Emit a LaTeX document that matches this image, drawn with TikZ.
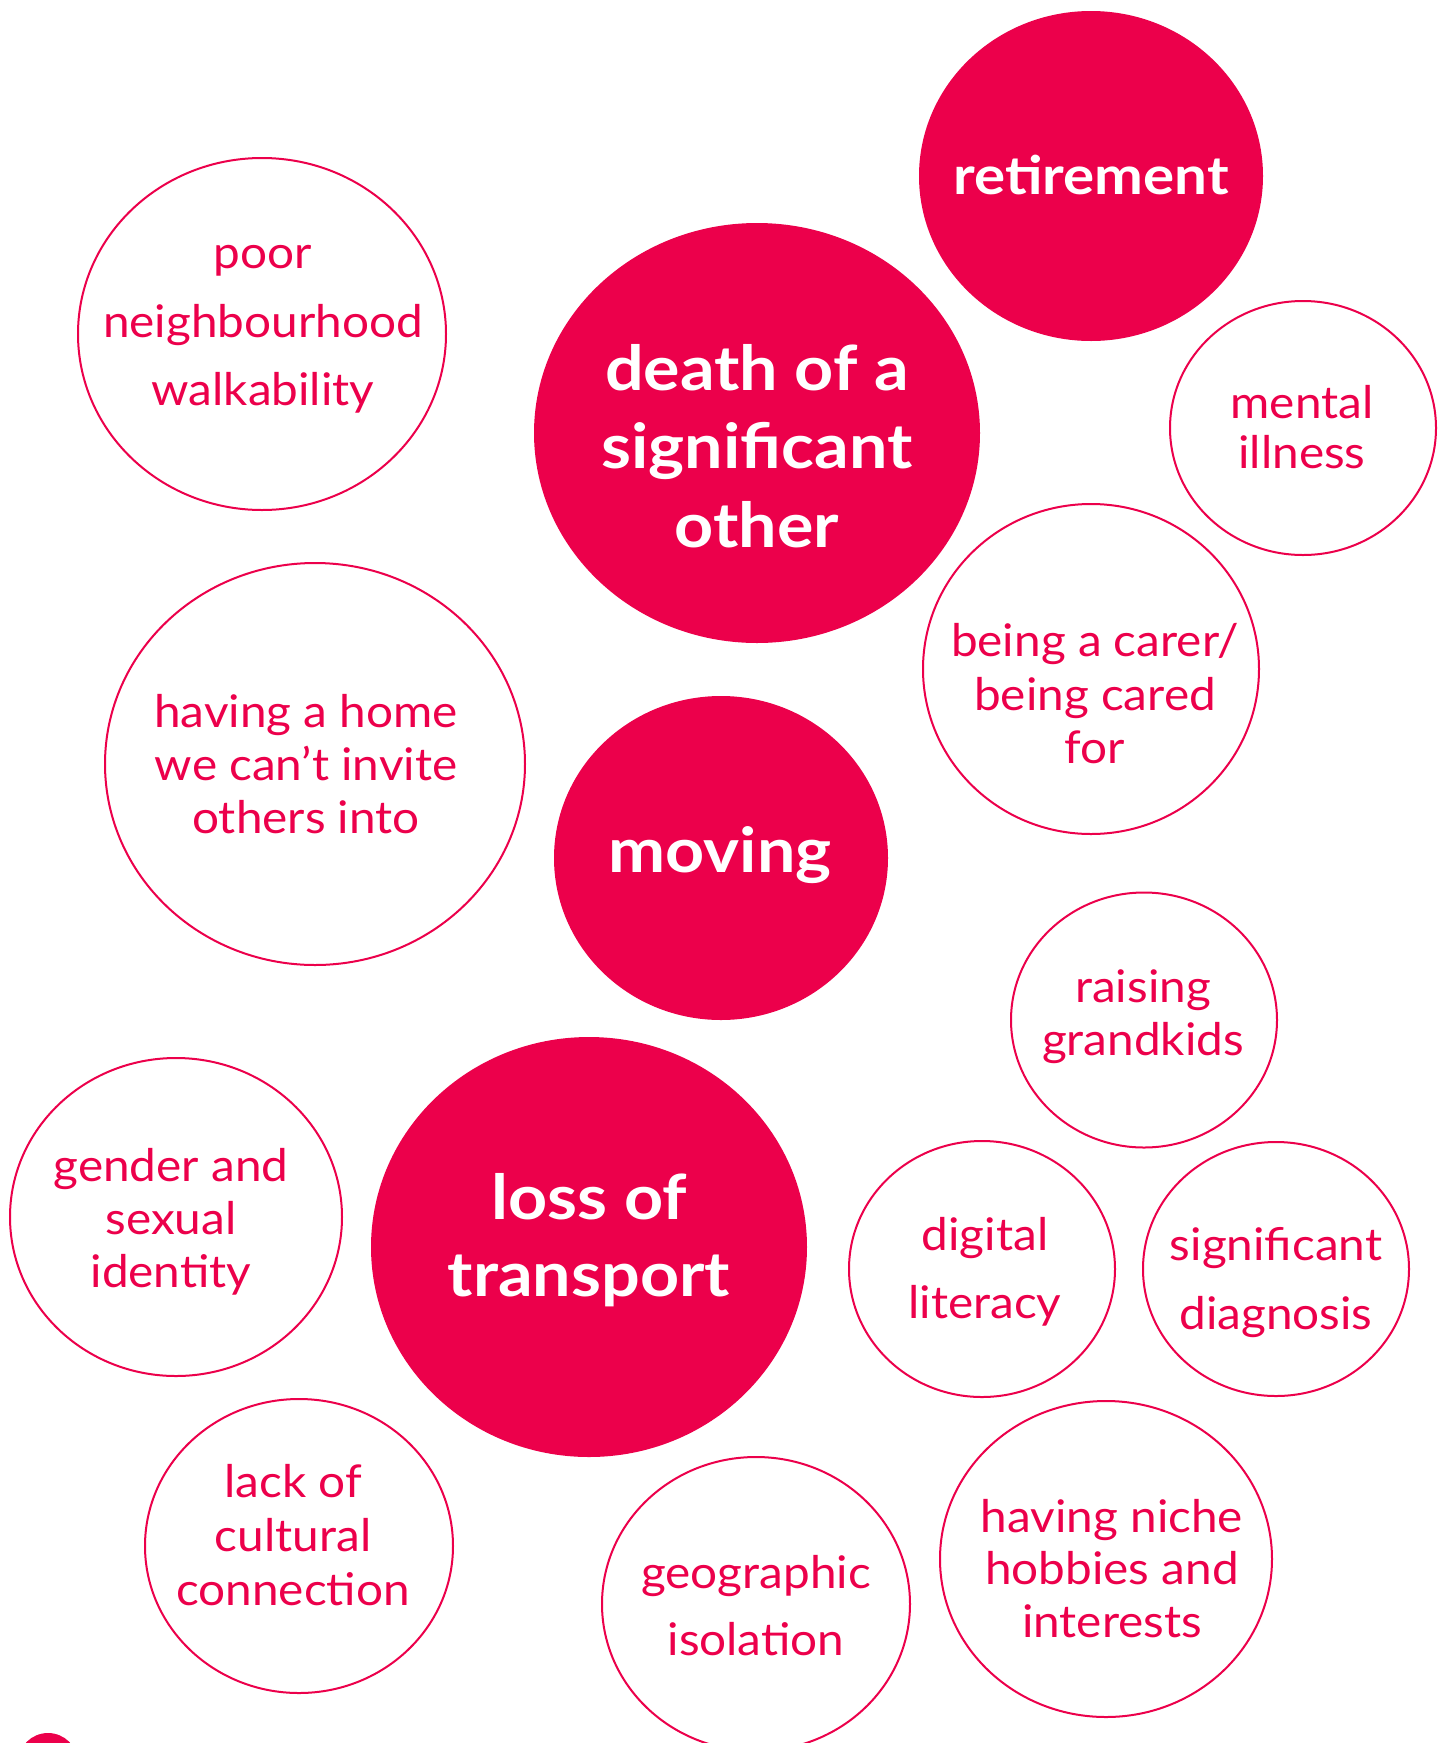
\documentclass[tikz,border=0pt]{standalone}
\usepackage{fontspec}
\setmainfont{Lato}
\newfontfamily\reglato{Lato}[FakeStretch=1.06]
\newfontfamily\boldlato{Lato}[FakeStretch=1.10]
\usetikzlibrary{shapes.geometric}
\definecolor{brand}{RGB}{236,0,75}
\tikzset{
  solidball/.style={ellipse, fill=brand, draw=none, inner sep=0pt, outer sep=0pt},
  ringball/.style={ellipse, draw=brand, line width=2pt, fill=none, inner sep=0pt, outer sep=0pt},
  boldtxt/.style={text=white, font=\boldlato\fontsize{62}{62}\selectfont\bfseries, anchor=base, inner sep=0pt},
  smallbold/.style={boldtxt, font=\boldlato\fontsize{53}{53}\selectfont\bfseries},
  lighttxt/.style={text=brand, font=\reglato\fontsize{45}{45}\selectfont, anchor=base, inner sep=0pt},
}
\begin{document}
\begin{tikzpicture}[x=1pt,y=-1pt]
\useasboundingbox (0,0) rectangle (1448,1743);
\clip (0,0) rectangle (1448,1743);
\fill[white] (0,0) rectangle (1448,1743);

% filled circles
\node[solidball, minimum width=344pt, minimum height=330pt] (retire) at (1091,176) {};
\node[smallbold] (retireA) at (1091,194) {retirement};

\node[solidball, minimum width=446pt, minimum height=420pt] (death) at (757,433) {};
\node[boldtxt] (deathA) at (757,390) {death of a};
\node[boldtxt] (deathB) at (757,468) {significant};
\node[boldtxt] (deathC) at (757,547) {other};

\node[solidball, minimum width=334pt, minimum height=324pt] (moving) at (721,858) {};
\node[boldtxt] (movingA) at (720,872) {moving};

\node[solidball, minimum width=436pt, minimum height=420pt] (transport) at (589,1247) {};
\node[boldtxt] (transportA) at (589,1219) {loss of};
\node[boldtxt] (transportB) at (589,1296) {transport};

\node[solidball, minimum width=60pt, minimum height=60pt] (corner) at (48,1763) {};

% outlined circles
\node[ringball, minimum width=368pt, minimum height=352pt] (poor) at (262,334) {};
\node[lighttxt] (poorA) at (263,268) {poor};
\node[lighttxt] (poorB) at (263,337) {neighbourhood};
\node[lighttxt] (poorC) at (263,405) {walkability};

\node[ringball, minimum width=266pt, minimum height=254pt] (mental) at (1303,428) {};
\node[lighttxt] (mentalA) at (1302,418) {mental};
\node[lighttxt] (mentalB) at (1302,468) {illness};

\node[ringball, minimum width=336pt, minimum height=330pt] (carer) at (1091,669) {};
\node[lighttxt] (carerA) at (1095,656) {being a carer/};
\node[lighttxt] (carerB) at (1095,710) {being cared};
\node[lighttxt] (carerC) at (1095,763) {for};

\node[ringball, minimum width=420pt, minimum height=402pt] (home) at (315,764) {};
\node[lighttxt] (homeA) at (306,727) {having a home};
\node[lighttxt] (homeB) at (306,780) {we can’t invite};
\node[lighttxt] (homeC) at (306,833) {others into};

\node[ringball, minimum width=266pt, minimum height=255pt] (raising) at (1144,1020) {};
\node[lighttxt] (raisingA) at (1143,1002) {raising};
\node[lighttxt] (raisingB) at (1143,1055) {grandkids};

\node[ringball, minimum width=332pt, minimum height=318pt] (gender) at (176,1217) {};
\node[lighttxt] (genderA) at (171,1181) {gender and};
\node[lighttxt] (genderB) at (171,1234) {sexual};
\node[lighttxt] (genderC) at (171,1287) {identity};

\node[ringball, minimum width=266pt, minimum height=256pt] (digital) at (982,1269) {};
\node[lighttxt] (digitalA) at (985,1250) {digital};
\node[lighttxt] (digitalB) at (985,1318) {literacy};

\node[ringball, minimum width=266pt, minimum height=254pt] (diagnosis) at (1276,1269) {};
\node[lighttxt] (diagnosisA) at (1276,1260) {significant};
\node[lighttxt] (diagnosisB) at (1276,1329) {diagnosis};

\node[ringball, minimum width=308pt, minimum height=294pt] (lack) at (299,1546) {};
\node[lighttxt] (lackA) at (293,1497) {lack of};
\node[lighttxt] (lackB) at (293,1551) {cultural};
\node[lighttxt] (lackC) at (293,1605) {connection};

\node[ringball, minimum width=308pt, minimum height=294pt] (geo) at (756,1604) {};
\node[lighttxt] (geoA) at (756,1588) {geographic};
\node[lighttxt] (geoB) at (756,1655) {isolation};

\node[ringball, minimum width=332pt, minimum height=316pt] (niche) at (1106,1559) {};
\node[lighttxt] (nicheA) at (1112,1532) {having niche};
\node[lighttxt] (nicheB) at (1112,1584) {hobbies and};
\node[lighttxt] (nicheC) at (1112,1637) {interests};
\end{tikzpicture}
\end{document}
